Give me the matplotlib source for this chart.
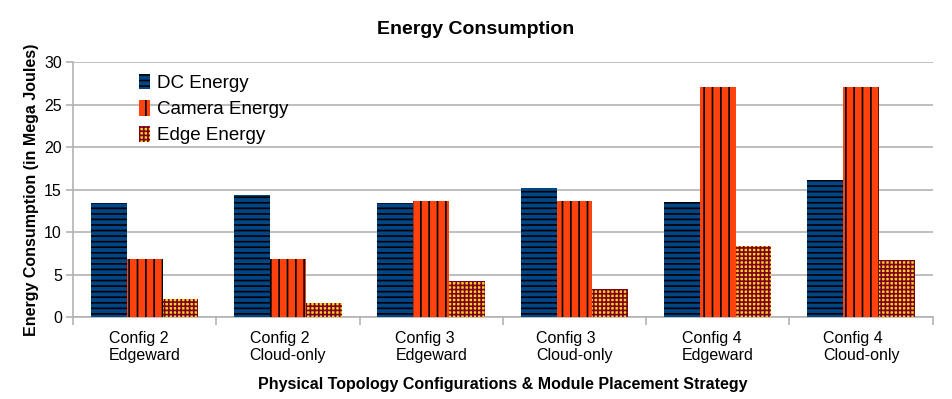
import numpy as np
import matplotlib.pyplot as plt

plt.rcParams['font.family'] = ['Liberation Sans', 'DejaVu Sans']
plt.rcParams['hatch.linewidth'] = 1.2

categories = ['Config 2\nEdgeward', 'Config 2\nCloud-only', 'Config 3\nEdgeward',
              'Config 3\nCloud-only', 'Config 4\nEdgeward', 'Config 4\nCloud-only']
dc_energy = [13.4, 14.3, 13.4, 15.2, 13.5, 16.1]
camera_energy = [6.8, 6.8, 13.6, 13.6, 27.1, 27.1]
edge_energy = [2.1, 1.6, 4.2, 3.3, 8.4, 6.7]

fig = plt.figure(figsize=(9.52, 3.99), dpi=100)
ax = fig.add_axes([0.0767, 0.2055, 0.903, 0.639])

x = np.arange(len(categories))
w = 0.25
ax.bar(x - w, dc_energy, w, color='#004586', edgecolor='black', linewidth=0,
       hatch='---', label='DC Energy', zorder=3)
ax.bar(x, camera_energy, w, color='#ff420e', edgecolor='black', linewidth=0,
       hatch='||', label='Camera Energy', zorder=3)
ax.bar(x + w, edge_energy, w, color='#ffd320', edgecolor='#7e0021', linewidth=0,
       hatch='++++', label='Edge Energy', zorder=3)

ax.set_xlim(-0.5, len(categories) - 0.5)
ax.set_ylim(0, 30)
ax.set_yticks(range(0, 31, 5))
ax.yaxis.grid(True, color='#b3b3b3', linewidth=1.2, zorder=0)
ax.set_axisbelow(True)

ax.set_xticks(x)
ax.set_xticklabels(categories, fontsize=11.5, linespacing=1.2, multialignment='left')
ax.set_xticks(np.arange(-0.5, len(categories)), minor=True)
ax.tick_params(axis='x', which='major', length=0, pad=10)
ax.tick_params(axis='x', which='minor', length=6, color='#b3b3b3', width=1.2)
ax.tick_params(axis='y', length=5, color='#b3b3b3', width=1.2, labelsize=11.5, pad=3)

for s in ['top', 'right']:
    ax.spines[s].set_visible(False)
for s in ['left', 'bottom']:
    ax.spines[s].set_color('#b3b3b3')
    ax.spines[s].set_linewidth(1.2)

fig.text(0.5, 0.925, 'Energy Consumption', fontsize=14, fontweight='bold',
         ha='center', va='center')
ax.set_ylabel('Energy Consumption (in Mega Joules)', fontsize=11.5, fontweight='bold', labelpad=4)
ax.set_xlabel('Physical Topology Configurations & Module Placement Strategy',
              fontsize=11.5, fontweight='bold', labelpad=10)

ax.legend(loc='upper left', bbox_to_anchor=(0.057, 1.02), frameon=False, fontsize=13.5,
          handlelength=0.6, handleheight=0.9, handletextpad=0.35, labelspacing=0.42)

fig.savefig('out.png', dpi=100)
